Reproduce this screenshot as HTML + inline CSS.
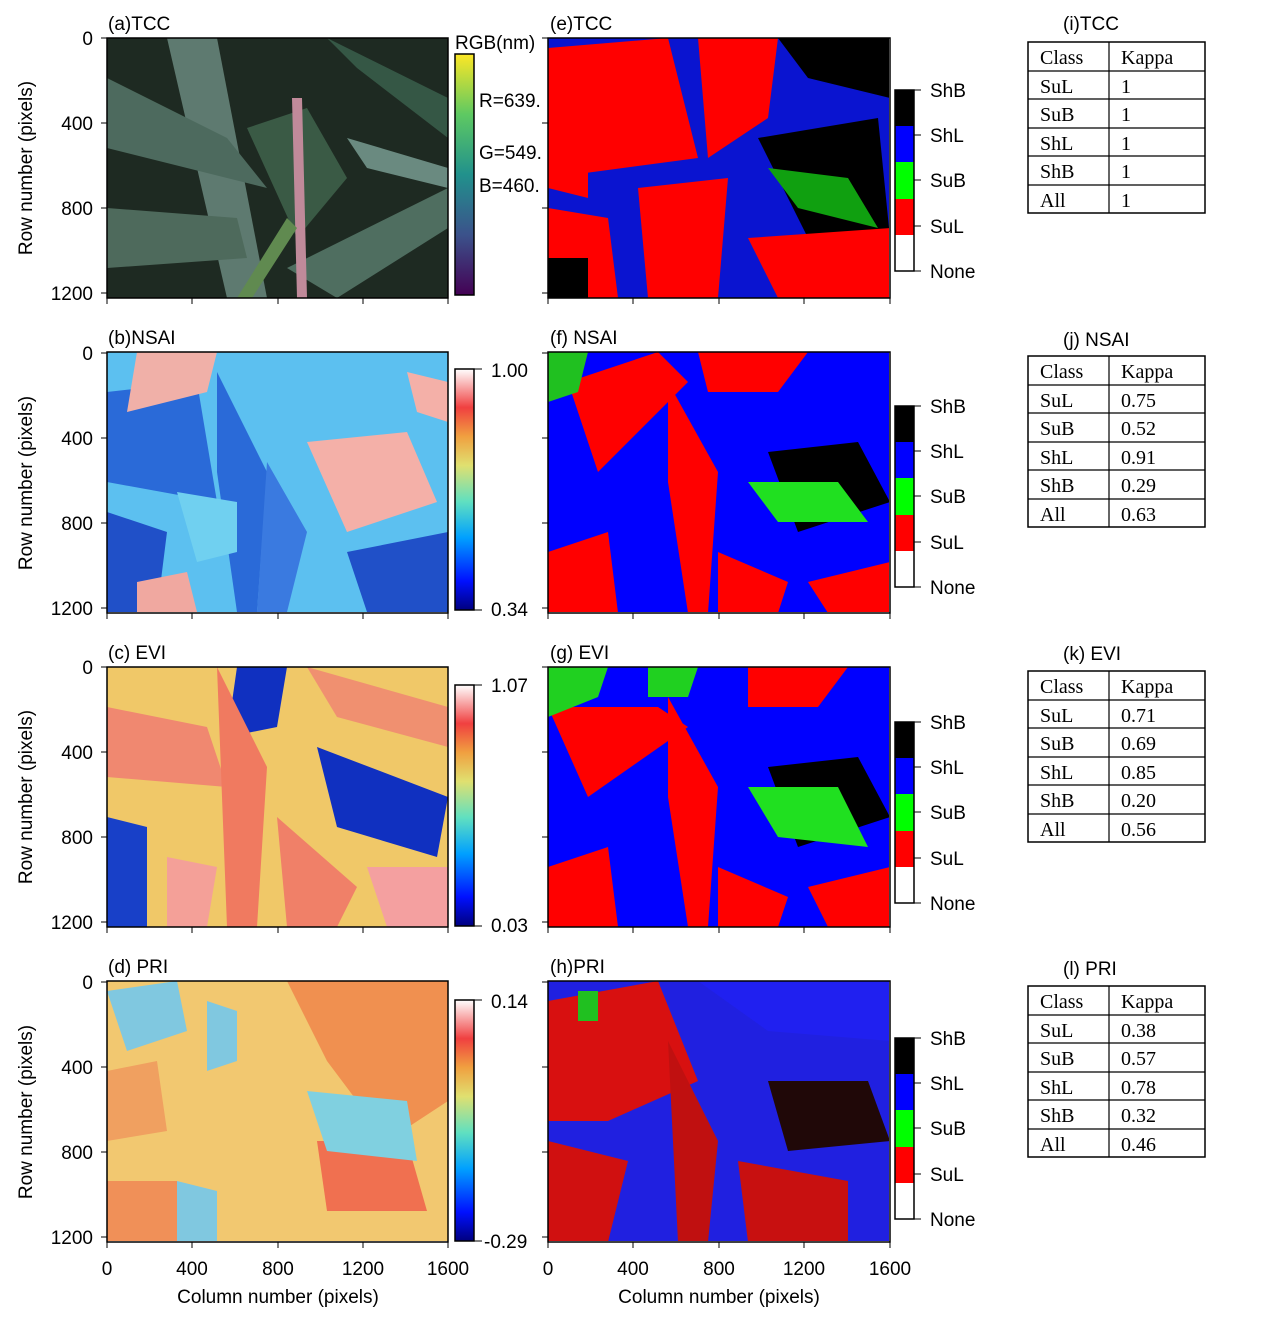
<!DOCTYPE html>
<html><head><meta charset="utf-8"><style>
body{margin:0;background:#fff;}
svg{display:block;font-family:"Liberation Sans",sans-serif;}
.t{font-family:"Liberation Serif",serif;font-size:20px;}
</style></head><body>
<svg width="1268" height="1323" viewBox="0 0 1268 1323" xmlns="http://www.w3.org/2000/svg">
<defs>
<linearGradient id="vir" x1="0" y1="1" x2="0" y2="0">
<stop offset="0" stop-color="#440154"/><stop offset="0.25" stop-color="#3b528b"/><stop offset="0.5" stop-color="#21918c"/><stop offset="0.75" stop-color="#5ec962"/><stop offset="1" stop-color="#fde725"/></linearGradient>
<linearGradient id="jet" x1="0" y1="1" x2="0" y2="0">
<stop offset="0" stop-color="#00007f"/><stop offset="0.12" stop-color="#0010ff"/><stop offset="0.3" stop-color="#00a0ff"/><stop offset="0.45" stop-color="#60e0c0"/><stop offset="0.6" stop-color="#e0e070"/><stop offset="0.72" stop-color="#f0a040"/><stop offset="0.84" stop-color="#f04040"/><stop offset="1" stop-color="#ffffff"/></linearGradient>
<clipPath id="cl"><rect x="0" y="0" width="341" height="260"/></clipPath>
</defs>

<g transform="translate(107,38)"><g clip-path="url(#cl)">
<rect width="341" height="260" fill="#1e2a22"/>
<polygon points="60,0 110,0 160,260 120,260" fill="#5e7a70"/>
<polygon points="0,40 120,100 160,150 0,110" fill="#4d6a5e"/>
<polygon points="140,90 200,70 240,140 190,200" fill="#3a5a45"/>
<polygon points="180,230 341,150 341,190 230,260" fill="#4f6e60"/>
<polygon points="220,0 341,60 341,100 250,30" fill="#355745"/>
<polygon points="0,170 130,180 140,220 0,230" fill="#4e6a5c"/>
<polygon points="240,100 341,130 341,150 260,130" fill="#6a8a80"/>
<polygon points="185,60 195,60 200,260 190,260" fill="#c08a9a"/>
<polygon points="130,260 180,180 190,190 145,260" fill="#608a50"/>
</g><rect width="341" height="260" fill="none" stroke="#000" stroke-width="1.5"/></g>

<g transform="translate(107,352)"><g clip-path="url(#cl)">
<rect width="341" height="261" fill="#5cc0f0"/>
<polygon points="0,40 90,30 110,150 0,130" fill="#2a6ad8"/>
<polygon points="110,20 160,120 150,260 130,260 110,120" fill="#2a6ad8"/>
<polygon points="30,0 110,0 100,40 20,60" fill="#f0b0a8"/>
<polygon points="200,90 300,80 330,150 240,180" fill="#f4b0a8"/>
<polygon points="300,20 341,30 341,70 310,60" fill="#f4b0a8"/>
<polygon points="0,160 60,180 50,260 0,260" fill="#2050c8"/>
<polygon points="160,110 200,180 180,260 150,260" fill="#3a7ae0"/>
<polygon points="240,200 341,180 341,260 260,260" fill="#2050c8"/>
<polygon points="30,230 80,220 90,260 30,260" fill="#f0a8a0"/>
<polygon points="70,140 130,150 130,200 90,210" fill="#70d0f0"/>
</g><rect width="341" height="261" fill="none" stroke="#000" stroke-width="1.5"/></g>

<g transform="translate(107,667)"><g clip-path="url(#cl)">
<rect width="341" height="260" fill="#f0c868"/>
<polygon points="130,0 180,0 170,60 120,70" fill="#1030c0"/>
<polygon points="210,80 341,130 330,190 230,160" fill="#1030c0"/>
<polygon points="0,40 100,60 120,120 0,110" fill="#f08870"/>
<polygon points="110,0 160,100 150,260 120,260" fill="#f07a60"/>
<polygon points="200,0 341,40 341,80 230,50" fill="#f09070"/>
<polygon points="0,150 40,160 40,260 0,260" fill="#1840c8"/>
<polygon points="170,150 250,220 230,260 180,260" fill="#f08068"/>
<polygon points="260,200 341,200 341,260 280,260" fill="#f4a0a0"/>
<polygon points="60,190 110,200 100,260 60,260" fill="#f4a098"/>
</g><rect width="341" height="260" fill="none" stroke="#000" stroke-width="1.5"/></g>

<g transform="translate(107,981)"><g clip-path="url(#cl)">
<rect width="341" height="261" fill="#f2c870"/>
<polygon points="180,0 341,0 341,120 280,160 220,80" fill="#f09050"/>
<polygon points="210,160 300,160 320,230 220,230" fill="#f07050"/>
<polygon points="200,110 300,120 310,180 220,170" fill="#80d0e0"/>
<polygon points="0,10 70,0 80,50 20,70" fill="#80c8e0"/>
<polygon points="100,20 130,30 130,80 100,90" fill="#80c8e0"/>
<polygon points="0,200 70,200 70,261 0,261" fill="#f09058"/>
<polygon points="70,200 110,210 110,261 70,261" fill="#80c8e0"/>
<polygon points="0,90 50,80 60,150 0,160" fill="#f0a060"/>
</g><rect width="341" height="261" fill="none" stroke="#000" stroke-width="1.5"/></g>

<g transform="translate(548,38)"><g clip-path="url(#cl)">
<rect width="342" height="260" fill="#0a14d0"/>
<polygon points="0,10 120,0 150,120 0,140" fill="#ff0000"/>
<polygon points="150,0 230,0 220,80 160,120" fill="#ff0000"/>
<polygon points="230,0 342,0 342,60 260,40" fill="#000"/>
<polygon points="210,100 330,80 342,200 260,200" fill="#000"/>
<polygon points="220,130 300,140 330,190 250,170" fill="#10a010"/>
<polygon points="0,170 60,180 70,260 0,260" fill="#ff0000"/>
<polygon points="90,150 180,140 170,260 100,260" fill="#ff0000"/>
<polygon points="200,200 342,190 342,260 230,260" fill="#ff0000"/>
<polygon points="0,100 40,100 40,160 0,150" fill="#ff0000"/>
<polygon points="0,220 40,220 40,260 0,260" fill="#000"/>
</g><rect width="342" height="260" fill="none" stroke="#000" stroke-width="1.5"/></g>

<g transform="translate(548,352)"><g clip-path="url(#cl)">
<rect width="342" height="261" fill="#0000ff"/>
<polygon points="20,30 110,0 140,30 50,120" fill="#ff0000"/>
<polygon points="120,30 170,120 160,261 140,261 120,130" fill="#ff0000"/>
<polygon points="150,0 260,0 230,40 160,40" fill="#ff0000"/>
<polygon points="220,100 310,90 342,150 250,180" fill="#000"/>
<polygon points="200,130 290,130 320,170 230,170" fill="#20e020"/>
<polygon points="0,0 40,0 30,40 0,50" fill="#20c020"/>
<polygon points="0,200 60,180 70,261 0,261" fill="#ff0000"/>
<polygon points="170,200 240,230 230,261 170,261" fill="#ff0000"/>
<polygon points="260,230 342,210 342,261 280,261" fill="#ff0000"/>
</g><rect width="342" height="261" fill="none" stroke="#000" stroke-width="1.5"/></g>

<g transform="translate(548,667)"><g clip-path="url(#cl)">
<rect width="342" height="260" fill="#0000ff"/>
<polygon points="0,40 110,40 140,60 40,130" fill="#ff0000"/>
<polygon points="120,30 170,120 160,260 140,260 120,130" fill="#ff0000"/>
<polygon points="200,0 300,0 270,40 200,40" fill="#ff0000"/>
<polygon points="220,100 310,90 342,150 250,180" fill="#000"/>
<polygon points="200,120 290,120 320,180 230,170" fill="#20e020"/>
<polygon points="0,0 60,0 50,30 0,50" fill="#20d020"/>
<polygon points="100,0 150,0 140,30 100,30" fill="#20d020"/>
<polygon points="0,200 60,180 70,260 0,260" fill="#ff0000"/>
<polygon points="170,200 240,230 230,260 170,260" fill="#ff0000"/>
<polygon points="260,220 342,200 342,260 280,260" fill="#ff0000"/>
</g><rect width="342" height="260" fill="none" stroke="#000" stroke-width="1.5"/></g>

<g transform="translate(548,981)"><g clip-path="url(#cl)">
<rect width="342" height="261" fill="#2020e0"/>
<polygon points="0,20 110,0 150,100 60,140 0,140" fill="#d81010"/>
<polygon points="150,0 342,0 342,60 220,50" fill="#2020f0"/>
<polygon points="120,60 170,160 160,261 130,261" fill="#c01010"/>
<polygon points="220,100 320,100 342,160 240,170" fill="#200808"/>
<polygon points="0,160 80,180 60,261 0,261" fill="#d01010"/>
<polygon points="190,180 300,200 300,261 200,261" fill="#c81010"/>
<polygon points="30,10 50,10 50,40 30,40" fill="#20c020"/>
</g><rect width="342" height="261" fill="none" stroke="#000" stroke-width="1.5"/></g>

<g font-size="19" text-anchor="end" fill="#000">
<g id="ya">
<text x="93" y="45">0</text><text x="93" y="130">400</text><text x="93" y="215">800</text><text x="93" y="300">1200</text>
<path d="M101,38h6M101,123h6M101,208h6M101,293h6" stroke="#000"/>
<text transform="translate(32,168) rotate(-90)" text-anchor="middle">Row number (pixels)</text>
</g>
<use href="#ya" y="315"/><use href="#ya" y="629"/><use href="#ya" y="944"/>
</g>
<g stroke="#000"><g id="ym"><path d="M542,38h6M542,123h6M542,208h6M542,293h6"/></g>
<use href="#ym" y="315"/><use href="#ym" y="629"/><use href="#ym" y="944"/>
<g id="xt"><path d="M107,298v6M192,298v6M278,298v6M363,298v6M448,298v6M548,298v6M633,298v6M719,298v6M804,298v6M890,298v6"/></g>
<use href="#xt" y="315"/><use href="#xt" y="629"/><use href="#xt" y="944"/>
</g>
<g font-size="19" text-anchor="middle">
<text x="107" y="1275">0</text><text x="192" y="1275">400</text><text x="278" y="1275">800</text><text x="363" y="1275">1200</text><text x="448" y="1275">1600</text>
<text x="548" y="1275">0</text><text x="633" y="1275">400</text><text x="719" y="1275">800</text><text x="804" y="1275">1200</text><text x="890" y="1275">1600</text>
<text x="278" y="1303">Column number (pixels)</text><text x="719" y="1303">Column number (pixels)</text>
</g>

<g font-size="19">
<text x="108" y="30">(a)TCC</text><text x="108" y="344">(b)NSAI</text><text x="108" y="659">(c) EVI</text><text x="108" y="973">(d) PRI</text>
<text x="550" y="30">(e)TCC</text><text x="550" y="344">(f) NSAI</text><text x="550" y="659">(g) EVI</text><text x="550" y="973">(h)PRI</text>
<text x="1063" y="30">(i)TCC</text><text x="1063" y="346">(j) NSAI</text><text x="1063" y="660">(k) EVI</text><text x="1063" y="975">(l) PRI</text>
</g>

<rect x="455" y="54" width="19" height="241" fill="url(#vir)" stroke="#000" stroke-width="1.5"/>
<g font-size="19"><text x="455" y="49">RGB(nm)</text><text x="479" y="107">R=639.</text><text x="479" y="159">G=549.</text><text x="479" y="192">B=460.</text></g>
<g id="cb"><rect x="455" y="369" width="19" height="241" fill="url(#jet)" stroke="#000" stroke-width="1.5"/>
<path d="M474,369h8M474,610h8" stroke="#000"/></g>
<use href="#cb" y="316"/><use href="#cb" y="631"/>
<g font-size="19"><text x="491" y="377">1.00</text><text x="491" y="616">0.34</text>
<text x="491" y="692">1.07</text><text x="491" y="932">0.03</text>
<text x="491" y="1008">0.14</text><text x="484" y="1248">-0.29</text></g>

<g id="lg">
<rect x="895" y="90" width="19" height="36" fill="#000"/><rect x="895" y="126" width="19" height="36" fill="#0000ff"/>
<rect x="895" y="162" width="19" height="37" fill="#00ff00"/><rect x="895" y="199" width="19" height="36" fill="#ff0000"/>
<rect x="895" y="235" width="19" height="36" fill="#fff"/>
<rect x="895" y="90" width="19" height="181" fill="none" stroke="#000" stroke-width="1.5"/>
<path d="M914,90h7M914,135h7M914,180h7M914,226h7M914,271h7" stroke="#000"/>
<g font-size="19"><text x="930" y="97">ShB</text><text x="930" y="142">ShL</text><text x="930" y="187">SuB</text><text x="930" y="233">SuL</text><text x="930" y="278">None</text></g>
</g>
<use href="#lg" y="316"/><use href="#lg" y="632"/><use href="#lg" y="948"/>

<g id="tb" class="t">
<rect x="1028" y="42" width="177" height="171" fill="none" stroke="#000" stroke-width="1.5"/>
<path d="M1109,42v171M1028,71h177M1028,99h177M1028,128h177M1028,156h177M1028,185h177" stroke="#000" stroke-width="1.2"/>
<text x="1040" y="64">Class</text><text x="1121" y="64">Kappa</text>
<text x="1040" y="93">SuL</text><text x="1040" y="121">SuB</text><text x="1040" y="150">ShL</text><text x="1040" y="178">ShB</text><text x="1040" y="207">All</text>
</g>
<g class="t"><text x="1121" y="93">1</text><text x="1121" y="121">1</text><text x="1121" y="150">1</text><text x="1121" y="178">1</text><text x="1121" y="207">1</text></g>
<use href="#tb" y="314"/>
<g class="t" transform="translate(0,314)"><text x="1121" y="93">0.75</text><text x="1121" y="121">0.52</text><text x="1121" y="150">0.91</text><text x="1121" y="178">0.29</text><text x="1121" y="207">0.63</text></g>
<use href="#tb" y="629"/>
<g class="t" transform="translate(0,629)"><text x="1121" y="93">0.71</text><text x="1121" y="121">0.69</text><text x="1121" y="150">0.85</text><text x="1121" y="178">0.20</text><text x="1121" y="207">0.56</text></g>
<use href="#tb" y="944"/>
<g class="t" transform="translate(0,944)"><text x="1121" y="93">0.38</text><text x="1121" y="121">0.57</text><text x="1121" y="150">0.78</text><text x="1121" y="178">0.32</text><text x="1121" y="207">0.46</text></g>
</svg>
</body></html>
